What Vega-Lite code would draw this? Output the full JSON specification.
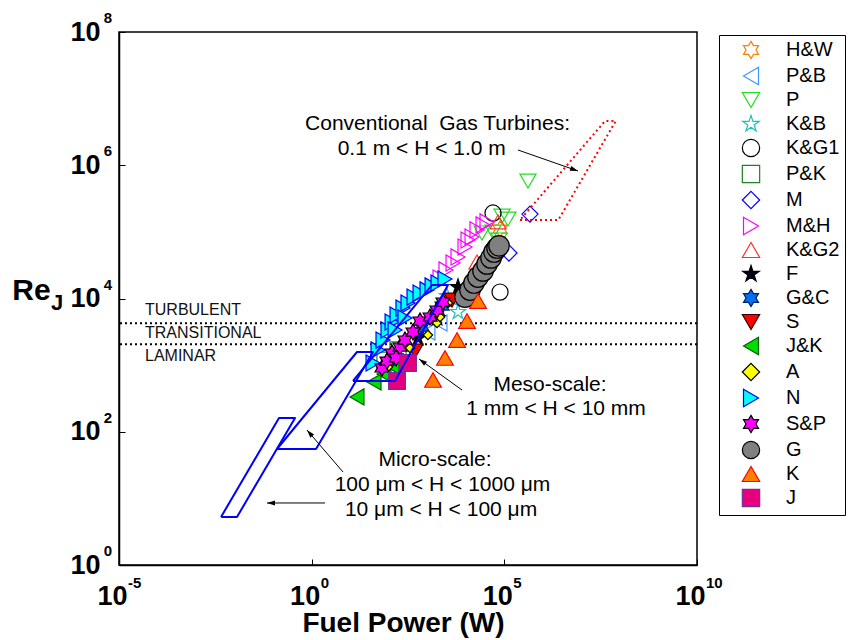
{
  "$schema": "https://vega.github.io/schema/vega-lite/v6.json",
  "width": 578,
  "height": 533,
  "autosize": {"type": "none"},
  "padding": {"left": 119, "top": 32, "right": 157, "bottom": 75},
  "background": "white",
  "config": {
    "view": {"stroke": "black", "strokeWidth": 1.5},
    "font": "Liberation Sans",
    "axis": {
      "grid": false, "domainColor": "black", "domainWidth": 1.5,
      "tickColor": "black", "tickSize": -6, "tickWidth": 1,
      "labelColor": "black", "labelFont": "Liberation Sans", "labelFontSize": 27, "labelFontWeight": "bold",
      "labelFlush": false, "labelOverlap": false, "labelBound": false,
      "titleFont": "Liberation Sans", "titleFontWeight": "bold", "titleColor": "black"
    },
    "legend": {
      "labelFont": "Liberation Sans", "labelFontSize": 20, "labelColor": "black",
      "symbolSize": 300, "symbolStrokeWidth": 1.2, "symbolOpacity": 1,
      "padding": 5, "rowPadding": 2, "symbolOffset": 17, "labelOffset": 25,
      "strokeColor": "black", "fillColor": "white", "labelLimit": 400
    }
  },
  "datasets": {
    "pts": [
      {"src": "H&W", "P": 77300, "Re": 110000}, {"src": "H&W", "P": 146, "Re": 1110},
      {"src": "P&B", "P": 2140, "Re": 4290}, {"src": "P&B", "P": 1040, "Re": 3140}, {"src": "P&B", "P": 4390, "Re": 10160},
      {"src": "P", "P": 411000, "Re": 579000}, {"src": "P", "P": 124000, "Re": 156000}, {"src": "P", "P": 87100, "Re": 173000},
      {"src": "P", "P": 50800, "Re": 99500}, {"src": "P", "P": 26400, "Re": 96200}, {"src": "P", "P": 72800, "Re": 75500},
      {"src": "K&B", "P": 6280, "Re": 6270}, {"src": "K&B", "P": 3250, "Re": 10900},
      {"src": "K&G1", "P": 50800, "Re": 192000}, {"src": "K&G1", "P": 77300, "Re": 12500},
      {"src": "P&K", "P": 80, "Re": 1190}, {"src": "P&K", "P": 174, "Re": 1690},
      {"src": "M", "P": 463000, "Re": 185000}, {"src": "M", "P": 132000, "Re": 48200},
      {"src": "M&H", "P": 3060, "Re": 26800}, {"src": "M&H", "P": 4660, "Re": 34100}, {"src": "M&H", "P": 6280, "Re": 42000},
      {"src": "M&H", "P": 9530, "Re": 59300}, {"src": "M&H", "P": 11400, "Re": 75500}, {"src": "M&H", "P": 14500, "Re": 83800},
      {"src": "M&H", "P": 19500, "Re": 107000}, {"src": "M&H", "P": 28000, "Re": 127000}, {"src": "M&H", "P": 35500, "Re": 141000},
      {"src": "M&H", "P": 2140, "Re": 20300},
      {"src": "K&G2", "P": 68600, "Re": 141000}, {"src": "K&G2", "P": 19500, "Re": 35300},
      {"src": "F", "P": 6280, "Re": 14860}, {"src": "F", "P": 1790, "Re": 5090}, {"src": "F", "P": 575, "Re": 2550},
      {"src": "G&C", "P": 729, "Re": 3730}, {"src": "G&C", "P": 2410, "Re": 7710},
      {"src": "S", "P": 481, "Re": 1630}, {"src": "S", "P": 4390, "Re": 9480},
      {"src": "J&K", "P": 15.0, "Re": 333}, {"src": "J&K", "P": 41.5, "Re": 558}, {"src": "J&K", "P": 75.3, "Re": 736},
      {"src": "J&K", "P": 122, "Re": 971},
      {"src": "A", "P": 95.7, "Re": 938}, {"src": "A", "P": 356, "Re": 1810}, {"src": "A", "P": 1040, "Re": 2830},
      {"src": "A", "P": 1790, "Re": 4290}, {"src": "A", "P": 2140, "Re": 5270}, {"src": "A", "P": 3450, "Re": 8550},
      {"src": "A", "P": 174, "Re": 1370},
      {"src": "N", "P": 39.1, "Re": 1076}, {"src": "N", "P": 52.7, "Re": 1690}, {"src": "N", "P": 71.0, "Re": 2380},
      {"src": "N", "P": 95.7, "Re": 3370}, {"src": "N", "P": 122, "Re": 4440}, {"src": "N", "P": 164, "Re": 5650},
      {"src": "N", "P": 234, "Re": 7190}, {"src": "N", "P": 316, "Re": 8550}, {"src": "N", "P": 453, "Re": 10520},
      {"src": "N", "P": 649, "Re": 12080}, {"src": "N", "P": 984, "Re": 13430}, {"src": "N", "P": 1330, "Re": 15420},
      {"src": "N", "P": 1900, "Re": 17100}, {"src": "N", "P": 2880, "Re": 19630}, {"src": "N", "P": 146, "Re": 3370},
      {"src": "N", "P": 264, "Re": 5090},
      {"src": "S&P", "P": 66.8, "Re": 906}, {"src": "S&P", "P": 122, "Re": 1520}, {"src": "S&P", "P": 196, "Re": 1870},
      {"src": "S&P", "P": 264, "Re": 2380}, {"src": "S&P", "P": 427, "Re": 3140}, {"src": "S&P", "P": 649, "Re": 4590},
      {"src": "S&P", "P": 1180, "Re": 5270}, {"src": "S&P", "P": 1790, "Re": 6710}, {"src": "S&P", "P": 2560, "Re": 8850},
      {"src": "S&P", "P": 90.2, "Re": 1150}, {"src": "S&P", "P": 155, "Re": 1280},
      {"src": "G", "P": 9530, "Re": 10500}, {"src": "G", "P": 12850, "Re": 13400}, {"src": "G", "P": 16300, "Re": 17100},
      {"src": "G", "P": 20700, "Re": 21000}, {"src": "G", "P": 28000, "Re": 25900}, {"src": "G", "P": 35600, "Re": 33000},
      {"src": "G", "P": 45200, "Re": 40600}, {"src": "G", "P": 54000, "Re": 49900}, {"src": "G", "P": 64600, "Re": 57300},
      {"src": "G", "P": 72800, "Re": 61700},
      {"src": "K", "P": 20750, "Re": 9160}, {"src": "K", "P": 10740, "Re": 4590}, {"src": "K", "P": 5920, "Re": 2380},
      {"src": "K", "P": 2880, "Re": 1280}, {"src": "K", "P": 1410, "Re": 598},
      {"src": "J", "P": 316, "Re": 1076}, {"src": "J", "P": 164, "Re": 578}
    ],
    "polys": [
      {"poly": "m1", "i": 0, "P": 0.00444, "Re": 5.25}, {"poly": "m1", "i": 1, "P": 0.01153, "Re": 5.25},
      {"poly": "m1", "i": 2, "P": 0.370, "Re": 160.7}, {"poly": "m1", "i": 3, "P": 0.1419, "Re": 160.7},
      {"poly": "m1", "i": 4, "P": 0.00444, "Re": 5.25},
      {"poly": "m2", "i": 0, "P": 0.1259, "Re": 55.1}, {"poly": "m2", "i": 1, "P": 1.297, "Re": 55.1},
      {"poly": "m2", "i": 2, "P": 39.1, "Re": 1574}, {"poly": "m2", "i": 3, "P": 15.0, "Re": 1574},
      {"poly": "m2", "i": 4, "P": 0.1259, "Re": 55.1},
      {"poly": "m3", "i": 0, "P": 11.83, "Re": 578}, {"poly": "m3", "i": 1, "P": 145.5, "Re": 578},
      {"poly": "m3", "i": 2, "P": 3451, "Re": 15960}, {"poly": "m3", "i": 3, "P": 1327, "Re": 15960},
      {"poly": "m3", "i": 4, "P": 11.83, "Re": 578}
    ],
    "gas": [
      {"i": 0, "P": 255000, "Re": 150700}, {"i": 1, "P": 2520000, "Re": 150700},
      {"i": 2, "P": 77600000, "Re": 4610000}, {"i": 3, "P": 41000000, "Re": 4610000},
      {"i": 4, "P": 255000, "Re": 150700}
    ],
    "arrows": [
      {"a": "gas", "P": 8170000, "Re": 820000, "P2": 226000, "Re2": 1694000},
      {"a": "meso", "P": 611, "Re": 1236, "P2": 7980, "Re2": 423},
      {"a": "micro1", "P": 0.757, "Re": 106, "P2": 6.50, "Re2": 24.9},
      {"a": "micro2", "P": 0.0693, "Re": 8.53, "P2": 2.22, "Re2": 8.53}
    ],
    "notes": [
      {"P": 1845, "Re": 4160000, "t": "Conventional\u00a0 Gas Turbines:"},
      {"P": 718, "Re": 1754000, "t": "0.1 m < H < 1.0 m"},
      {"P": 1531000, "Re": 503, "t": "Meso-scale:"},
      {"P": 2190000, "Re": 219, "t": "1 mm < H < 10 mm"},
      {"P": 1589, "Re": 37.7, "t": "Micro-scale:"},
      {"P": 2485, "Re": 15.9, "t": "100 μm < H < 1000 μm"},
      {"P": 2275, "Re": 6.69, "t": "10 μm < H < 100 μm"}
    ],
    "regimes": [
      {"P": 0.0000473, "Re": 6720, "t": "TURBULENT"},
      {"P": 0.0000473, "Re": 3035, "t": "TRANSITIONAL"},
      {"P": 0.0000473, "Re": 1371, "t": "LAMINAR"}
    ],
    "bounds": [{"Re": 4260}, {"Re": 2053}],
    "yexp": [{"Re": 1, "e": "0"}, {"Re": 100, "e": "2"}, {"Re": 10000, "e": "4"}, {"Re": 1000000, "e": "6"}, {"Re": 100000000, "e": "8"}],
    "xexp": [{"P": 0.00001, "e": "-5"}, {"P": 1, "e": "0"}, {"P": 100000, "e": "5"}, {"P": 10000000000, "e": "10"}]
  },
  "layer": [
    {
      "data": {"name": "bounds"},
      "mark": {"type": "rule", "color": "black", "strokeWidth": 2, "strokeDash": [2, 3]},
      "encoding": {
        "y": {"field": "Re", "type": "quantitative", "scale": {"type": "log", "domain": [1, 100000000]}}
      }
    },
    {
      "data": {"name": "regimes"},
      "mark": {"type": "text", "align": "left", "baseline": "middle", "fontSize": 16, "font": "Liberation Sans", "color": "#111111"},
      "encoding": {
        "x": {"field": "P", "type": "quantitative", "scale": {"type": "log", "domain": [0.00001, 10000000000]}},
        "y": {"field": "Re", "type": "quantitative", "scale": {"type": "log", "domain": [1, 100000000]}},
        "text": {"field": "t"}
      }
    },
    {
      "data": {"name": "pts"},
      "encoding": {
        "x": {
          "field": "P", "type": "quantitative",
          "scale": {"type": "log", "domain": [0.00001, 10000000000]},
          "axis": {
            "values": [0.00001, 1, 100000, 10000000000],
            "labelExpr": "'10'",
            "labelAlign": "right", "labelOffset": 8, "labelBaseline": "middle", "labelPadding": 37,
            "title": "Fuel Power (W)", "titleFontSize": 28, "titleX": 284, "titleY": 58,
            "titleAlign": "center", "titleBaseline": "middle"
          }
        },
        "y": {
          "field": "Re", "type": "quantitative",
          "scale": {"type": "log", "domain": [1, 100000000]},
          "axis": {
            "values": [1, 100, 10000, 1000000, 100000000],
            "labelExpr": "'10'",
            "labelPadding": 25,
            "title": "Re", "titleFontSize": 30, "titleAngle": 0, "titleX": -88, "titleY": 258,
            "titleAlign": "center", "titleBaseline": "middle"
          }
        },
        "shape": {
          "field": "src", "type": "nominal",
          "scale": {
            "domain": ["H&W", "P&B", "P", "K&B", "K&G1", "P&K", "M", "M&H", "K&G2", "F", "G&C", "S", "J&K", "A", "N", "S&P", "G", "K", "J"],
            "range": [
              "M0,-1L0.289,-0.5L0.866,-0.5L0.577,0L0.866,0.5L0.289,0.5L0,1L-0.289,0.5L-0.866,0.5L-0.577,0L-0.866,-0.5L-0.289,-0.5Z",
              "triangle-left", "triangle-down",
              "M0,-1L0.225,-0.309L0.951,-0.309L0.363,0.118L0.588,0.809L0,0.382L-0.588,0.809L-0.363,0.118L-0.951,-0.309L-0.225,-0.309Z",
              "circle", "square", "diamond", "triangle-right", "triangle-up",
              "M0,-1L0.225,-0.309L0.951,-0.309L0.363,0.118L0.588,0.809L0,0.382L-0.588,0.809L-0.363,0.118L-0.951,-0.309L-0.225,-0.309Z",
              "M0,-1L0.289,-0.5L0.866,-0.5L0.577,0L0.866,0.5L0.289,0.5L0,1L-0.289,0.5L-0.866,0.5L-0.577,0L-0.866,-0.5L-0.289,-0.5Z",
              "triangle-down", "triangle-left", "diamond", "triangle-right",
              "M0,-1L0.289,-0.5L0.866,-0.5L0.577,0L0.866,0.5L0.289,0.5L0,1L-0.289,0.5L-0.866,0.5L-0.577,0L-0.866,-0.5L-0.289,-0.5Z",
              "circle", "triangle-up", "square"
            ]
          },
          "legend": {"title": null, "orient": "none", "legendX": 600, "legendY": 3, "labelExpr": "datum.label + '\u00a0\u00a0\u00a0\u00a0\u00a0'"}
        },
        "fill": {
          "field": "src", "type": "nominal",
          "scale": {
            "domain": ["H&W", "P&B", "P", "K&B", "K&G1", "P&K", "M", "M&H", "K&G2", "F", "G&C", "S", "J&K", "A", "N", "S&P", "G", "K", "J"],
            "range": ["transparent", "transparent", "transparent", "transparent", "transparent", "transparent", "transparent", "transparent", "transparent",
                      "#000018", "#0070F0", "#FF0000", "#00DD00", "#FFFF00", "#00FFFF", "#FF00FF", "#808080", "#FF8000", "#E6007E"]
          },
          "legend": {"title": null, "orient": "none", "legendX": 600, "legendY": 3, "labelExpr": "datum.label + '\u00a0\u00a0\u00a0\u00a0\u00a0'"}
        },
        "stroke": {
          "field": "src", "type": "nominal",
          "scale": {
            "domain": ["H&W", "P&B", "P", "K&B", "K&G1", "P&K", "M", "M&H", "K&G2", "F", "G&C", "S", "J&K", "A", "N", "S&P", "G", "K", "J"],
            "range": ["#FF7F00", "#3C96FF", "#22DD22", "#20C0C0", "#000000", "#208020", "#0000FF", "#FF00FF", "#FF3030",
                      "#000000", "#002060", "#300000", "#006000", "#000000", "#0000FF", "#000000", "#000000", "#FF0000", "#7030A0"]
          },
          "legend": {"title": null, "orient": "none", "legendX": 600, "legendY": 3, "labelExpr": "datum.label + '\u00a0\u00a0\u00a0\u00a0\u00a0'"}
        }
      },
      "layer": [
        {
          "transform": [{"filter": "indexof(['A', 'N', 'S&P', 'G', 'K', 'J'], datum.src) < 0"}],
          "mark": {"type": "point", "opacity": 1, "strokeWidth": 1.2, "filled": true, "size": 260}
        },
        {
          "transform": [{"filter": "datum.src == 'A'"}],
          "mark": {"type": "point", "opacity": 1, "strokeWidth": 1.2, "filled": true, "size": 90}
        },
        {
          "transform": [{"filter": "datum.src == 'N' || datum.src == 'S&P'"}],
          "mark": {"type": "point", "opacity": 1, "strokeWidth": 1.2, "filled": true, "size": 260}
        },
        {
          "transform": [{"filter": "datum.src == 'G'"}],
          "mark": {"type": "point", "opacity": 1, "strokeWidth": 1.2, "filled": true, "size": 420}
        },
        {
          "transform": [{"filter": "datum.src == 'K' || datum.src == 'J'"}],
          "mark": {"type": "point", "opacity": 1, "strokeWidth": 1.2, "filled": true, "size": 280}
        }
      ]
    },
    {
      "data": {"name": "polys"},
      "mark": {"type": "line", "color": "#0000FF", "strokeWidth": 2, "strokeJoin": "round"},
      "encoding": {
        "x": {"field": "P", "type": "quantitative", "scale": {"type": "log", "domain": [0.00001, 10000000000]}},
        "y": {"field": "Re", "type": "quantitative", "scale": {"type": "log", "domain": [1, 100000000]}},
        "detail": {"field": "poly"},
        "order": {"field": "i", "type": "quantitative"}
      }
    },
    {
      "data": {"name": "gas"},
      "mark": {"type": "line", "color": "#FF0000", "strokeWidth": 2, "strokeDash": [2, 3]},
      "encoding": {
        "x": {"field": "P", "type": "quantitative", "scale": {"type": "log", "domain": [0.00001, 10000000000]}},
        "y": {"field": "Re", "type": "quantitative", "scale": {"type": "log", "domain": [1, 100000000]}},
        "order": {"field": "i", "type": "quantitative"}
      }
    },
    {
      "data": {"name": "arrows"},
      "mark": {"type": "rule", "color": "black", "strokeWidth": 1},
      "encoding": {
        "x": {"field": "P", "type": "quantitative", "scale": {"type": "log", "domain": [0.00001, 10000000000]}},
        "y": {"field": "Re", "type": "quantitative", "scale": {"type": "log", "domain": [1, 100000000]}},
        "x2": {"field": "P2"},
        "y2": {"field": "Re2"}
      }
    },
    {
      "data": {"name": "arrows"},
      "transform": [{"filter": "datum.a == 'gas'"}],
      "mark": {"type": "point", "filled": true, "opacity": 1, "color": "black", "size": 100, "shape": "M0,0L-1.675,-0.056L-1.345,-1.0Z"},
      "encoding": {
        "x": {"field": "P", "type": "quantitative", "scale": {"type": "log", "domain": [0.00001, 10000000000]}},
        "y": {"field": "Re", "type": "quantitative", "scale": {"type": "log", "domain": [1, 100000000]}}
      }
    },
    {
      "data": {"name": "arrows"},
      "transform": [{"filter": "datum.a == 'meso'"}],
      "mark": {"type": "point", "filled": true, "opacity": 1, "color": "black", "size": 100, "shape": "M0,0L1.591,0.53L1.005,1.342Z"},
      "encoding": {
        "x": {"field": "P", "type": "quantitative", "scale": {"type": "log", "domain": [0.00001, 10000000000]}},
        "y": {"field": "Re", "type": "quantitative", "scale": {"type": "log", "domain": [1, 100000000]}}
      }
    },
    {
      "data": {"name": "arrows"},
      "transform": [{"filter": "datum.a == 'micro1'"}],
      "mark": {"type": "point", "filled": true, "opacity": 1, "color": "black", "size": 100, "shape": "M0,0L1.422,0.888L0.662,1.54Z"},
      "encoding": {
        "x": {"field": "P", "type": "quantitative", "scale": {"type": "log", "domain": [0.00001, 10000000000]}},
        "y": {"field": "Re", "type": "quantitative", "scale": {"type": "log", "domain": [1, 100000000]}}
      }
    },
    {
      "data": {"name": "arrows"},
      "transform": [{"filter": "datum.a == 'micro2'"}],
      "mark": {"type": "point", "filled": true, "opacity": 1, "color": "black", "size": 100, "shape": "M0,0L1.6,-0.5L1.6,0.5Z"},
      "encoding": {
        "x": {"field": "P", "type": "quantitative", "scale": {"type": "log", "domain": [0.00001, 10000000000]}},
        "y": {"field": "Re", "type": "quantitative", "scale": {"type": "log", "domain": [1, 100000000]}}
      }
    },
    {
      "data": {"name": "notes"},
      "mark": {"type": "text", "align": "center", "baseline": "middle", "fontSize": 21, "font": "Liberation Sans", "color": "black"},
      "encoding": {
        "x": {"field": "P", "type": "quantitative", "scale": {"type": "log", "domain": [0.00001, 10000000000]}},
        "y": {"field": "Re", "type": "quantitative", "scale": {"type": "log", "domain": [1, 100000000]}},
        "text": {"field": "t"}
      }
    },
    {
      "data": {"name": "yexp"},
      "mark": {"type": "text", "align": "center", "baseline": "middle", "fontSize": 15, "fontWeight": "bold", "font": "Liberation Sans", "color": "black", "dx": -11, "dy": -14},
      "encoding": {
        "x": {"datum": 0.00001, "type": "quantitative", "scale": {"type": "log", "domain": [0.00001, 10000000000]}},
        "y": {"field": "Re", "type": "quantitative", "scale": {"type": "log", "domain": [1, 100000000]}},
        "text": {"field": "e"}
      }
    },
    {
      "data": {"name": "xexp"},
      "mark": {"type": "text", "align": "left", "baseline": "middle", "fontSize": 15, "fontWeight": "bold", "font": "Liberation Sans", "color": "black", "dx": 9, "dy": 18},
      "encoding": {
        "x": {"field": "P", "type": "quantitative", "scale": {"type": "log", "domain": [0.00001, 10000000000]}},
        "y": {"datum": 1, "type": "quantitative", "scale": {"type": "log", "domain": [1, 100000000]}},
        "text": {"field": "e"}
      }
    },
    {
      "data": {"values": [{"t": "J"}]},
      "mark": {"type": "text", "align": "center", "baseline": "middle", "fontSize": 22, "fontWeight": "bold", "font": "Liberation Sans", "color": "black", "dx": -62, "dy": 4},
      "encoding": {
        "x": {"datum": 0.00001, "type": "quantitative", "scale": {"type": "log", "domain": [0.00001, 10000000000]}},
        "y": {"datum": 10000, "type": "quantitative", "scale": {"type": "log", "domain": [1, 100000000]}},
        "text": {"field": "t"}
      }
    }
  ]
}
